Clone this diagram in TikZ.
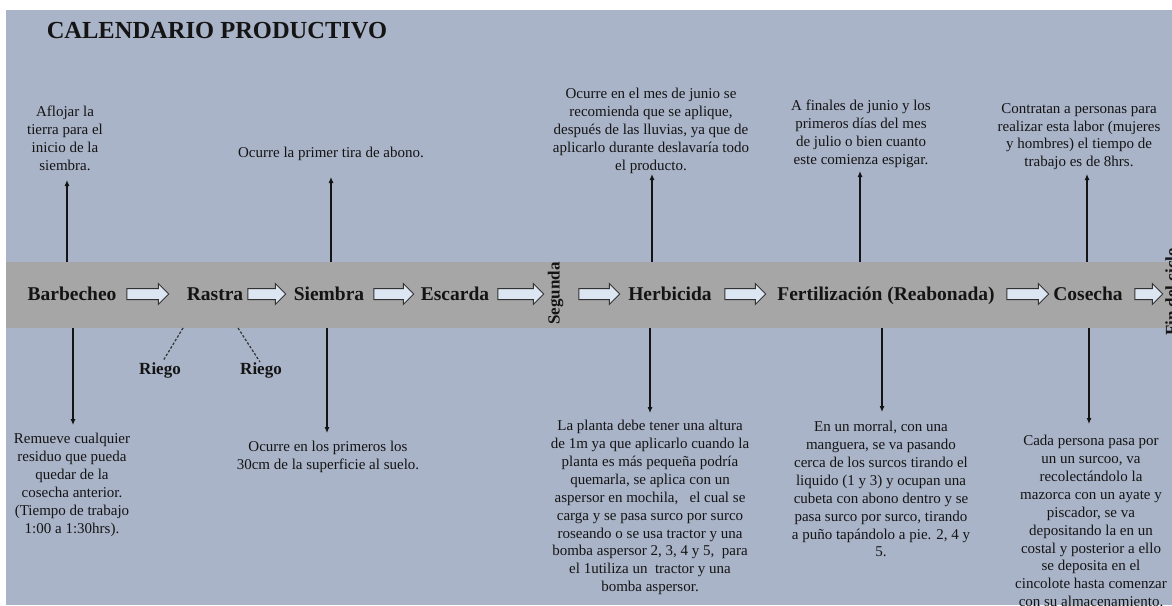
\documentclass[tikz,border=0pt]{standalone}
\usepackage{fontspec}
\setmainfont{Liberation Serif}
\usetikzlibrary{arrows.meta,shapes.arrows}
\definecolor{bgc}{RGB}{170,180,200}
\definecolor{bandc}{RGB}{166,166,166}
\definecolor{arrf}{RGB}{220,230,242}
\definecolor{arrd}{RGB}{50,50,50}
\definecolor{txt}{RGB}{20,20,20}
\begin{document}
\begin{tikzpicture}[x=1pt,y=-1pt,
  body/.style={align=center,inner sep=0pt,anchor=north,text=txt,font=\fontsize{15}{17.9}\selectfont},
  lab/.style={inner sep=0pt,anchor=base,text=txt,font=\bfseries\fontsize{19.5}{22}\selectfont},
  vlab/.style={inner sep=0pt,anchor=base,text=txt,rotate=90,font=\bfseries\fontsize{17}{20}\selectfont},
  riego/.style={inner sep=0pt,anchor=base,text=txt,font=\bfseries\fontsize{17}{20}\selectfont},
  blk/.style={single arrow,draw=arrd,fill=arrf,line width=1pt,inner xsep=0pt,inner ysep=5pt,single arrow head extend=5pt,anchor=center},
  conn/.style={line width=1.1pt,draw=txt,-{Latex[length=6pt,width=5pt]}},
  dsh/.style={dash pattern=on 2.5pt off 1.8pt,line width=1.2pt,draw=arrd}]
\useasboundingbox (0,0) rectangle (1172,605);
\fill[white] (0,0) rectangle (1172,605);
\fill[bgc] (6,10) rectangle (1172,605);
\node[fill=bandc,inner sep=0pt,minimum width=1166pt,minimum height=66pt] (band) at (589,295) {};

% title
\node[inner sep=0pt,anchor=base,text=txt,font=\bfseries\fontsize{24.5}{28}\selectfont] (title) at (217,38) {CALENDARIO PRODUCTIVO};

% band labels
\node[lab] (barb) at (72,300) {Barbecheo};
\node[lab] (rast) at (215,300) {Rastra};
\node[lab] (siem) at (329,300) {Siembra};
\node[lab] (esca) at (455,300) {Escarda};
\node[vlab] (segu) at (559.5,293.5) {Segunda};
\node[lab] (herb) at (670,300) {Herbicida};
\node[lab] (fert) at (886,300) {Fertilización (Reabonada)};
\node[lab] (cose) at (1088,300) {Cosecha};
\begin{scope}
\clip (0,0) rectangle (1172,605);
\node[vlab] (fin) at (1177,292) {Fin del ciclo};
\end{scope}

% block arrows
\node[blk,minimum height=42pt] (ar1) at (145,294) {};
\node[blk,minimum height=38pt] (ar2) at (264,294) {};
\node[blk,minimum height=40pt] (ar3) at (391,294) {};
\node[blk,minimum height=46pt] (ar4) at (518,294) {};
\node[blk,minimum height=41pt] (ar5) at (596.5,294) {};
\node[blk,minimum height=41pt] (ar6) at (742.5,294) {};
\node[blk,minimum height=42pt] (ar7) at (1025,294) {};
\node[blk,minimum height=28pt] (ar8) at (1146,294) {};

% upper texts
\node[body] (ta) at (65,106) {Aflojar la\\tierra para el\\inicio de la\\siembra.};
\node[body] (tb) at (331,147) {Ocurre la primer tira de abono.};
\node[body] (tc) at (651,88) {Ocurre en el mes de junio se\\recomienda que se aplique,\\después de las lluvias, ya que de\\aplicarlo durante deslavaría todo\\el producto.};
\node[body] (td) at (861,100) {A finales de junio y los\\primeros días del mes\\de julio o bien cuanto\\este comienza espigar.};
\node[body] (te) at (1079,103) {Contratan a personas para\\realizar esta labor (mujeres\\y hombres) el tiempo de\\trabajo es de 8hrs.};

% lower texts
\node[body] (ba) at (72,433) {Remueve cualquier\\residuo que pueda\\quedar de la\\cosecha anterior.\\(Tiempo de trabajo\\1:00 a 1:30hrs).};
\node[body] (bb) at (328,441) {Ocurre en los primeros los\\30cm de la superficie al suelo.};
\node[body] (bc) at (650,420) {La planta debe tener una altura\\de 1m ya que aplicarlo cuando la\\planta es más pequeña podría\\quemarla, se aplica con un\\aspersor en mochila, \ \ el cual se\\carga y se pasa surco por surco\\roseando o se usa tractor y una\\bomba aspersor 2, 3, 4 y 5, \ para\\el 1utiliza un \ tractor y una\\bomba aspersor.};
\node[body] (bd) at (881,421) {En un morral, con una\\manguera, se va pasando\\cerca de los surcos tirando el\\liquido (1 y 3) y ocupan una\\cubeta con abono dentro y se\\pasa surco por surco, tirando\\a puño tapándolo a pie. 2, 4 y\\5.};
\node[body] (be) at (1091,435) {Cada persona pasa por\\un un surcoo, va\\recolectándolo la\\mazorca con un ayate y\\piscador, se va\\depositando la en un\\costal y posterior a ello\\se deposita en el\\cincolote hasta comenzar\\con su almacenamiento.};

% riego
\node[riego] (r1) at (160,374) {Riego};
\node[riego] (r2) at (261,374) {Riego};
\coordinate (r1a) at (183,328);
\coordinate (r1b) at (163,361);
\coordinate (r2a) at (238,328);
\coordinate (r2b) at (260,362);
\draw[dsh] (r1a) -- (r1b);
\draw[dsh] (r2a) -- (r2b);

% connectors up
\coordinate (ua) at (67,180);
\coordinate (ub) at (331,177);
\coordinate (uc) at (652,174);
\coordinate (ud) at (860,171);
\coordinate (ue) at (1087,174);
\foreach \c in {ua,ub,uc,ud,ue} \draw[conn] (band.north -| \c) -- (\c);
% connectors down
\coordinate (da) at (73,425);
\coordinate (db) at (327,433);
\coordinate (dc) at (650,413);
\coordinate (dd) at (882,412);
\coordinate (de) at (1089,424);
\foreach \c in {da,db,dc,dd,de} \draw[conn] (band.south -| \c) -- (\c);
\end{tikzpicture}
\end{document}
